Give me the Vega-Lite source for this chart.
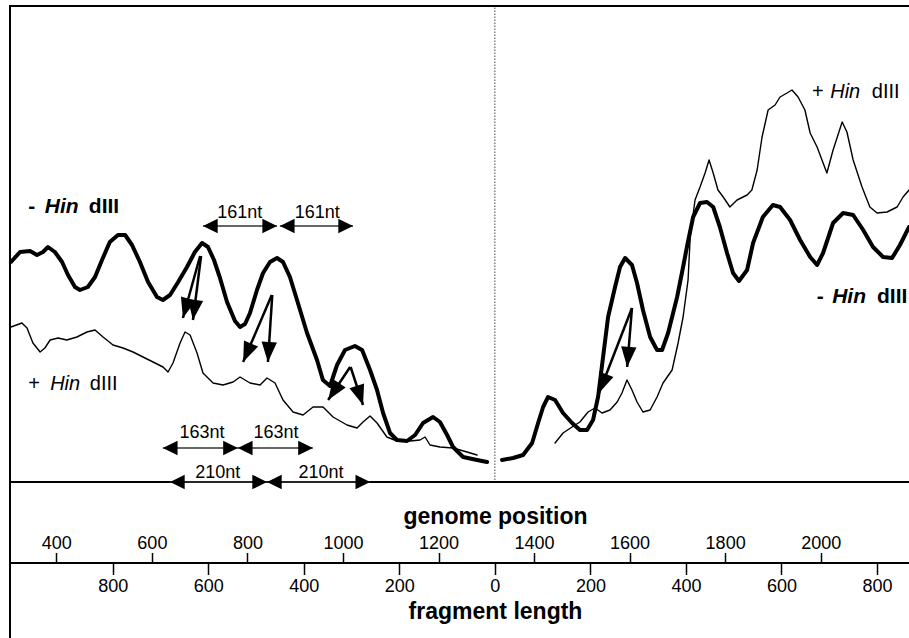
{
  "$schema": "https://vega.github.io/schema/vega-lite/v6.json",
  "width": 900,
  "height": 634,
  "autosize": {"type": "none"},
  "padding": {"left": 10, "top": 6, "right": 0, "bottom": 0},
  "background": "white",
  "config": {
    "font": "Liberation Sans",
    "view": {"stroke": "black", "strokeWidth": 2},
    "axis": {"grid": false, "domainColor": "black", "domainWidth": 2, "tickColor": "black", "tickWidth": 1.5, "labelColor": "black", "titleColor": "black", "labelFontSize": 18, "labelFontWeight": "normal", "titleFontSize": 23, "titleFontWeight": "bold", "labelFlush": false, "labelOverlap": false}
  },
  "datasets": {
    "curves": [
      {"trace": "mL", "treatment": "minus", "g": 305, "v": 220},
      {"trace": "mL", "treatment": "minus", "g": 324, "v": 230},
      {"trace": "mL", "treatment": "minus", "g": 345, "v": 231},
      {"trace": "mL", "treatment": "minus", "g": 359.5, "v": 227},
      {"trace": "mL", "treatment": "minus", "g": 372, "v": 230},
      {"trace": "mL", "treatment": "minus", "g": 382.5, "v": 235},
      {"trace": "mL", "treatment": "minus", "g": 397, "v": 230},
      {"trace": "mL", "treatment": "minus", "g": 412, "v": 220},
      {"trace": "mL", "treatment": "minus", "g": 424.4, "v": 207},
      {"trace": "mL", "treatment": "minus", "g": 439, "v": 195},
      {"trace": "mL", "treatment": "minus", "g": 449.5, "v": 192},
      {"trace": "mL", "treatment": "minus", "g": 466, "v": 195},
      {"trace": "mL", "treatment": "minus", "g": 481, "v": 205},
      {"trace": "mL", "treatment": "minus", "g": 495.6, "v": 222},
      {"trace": "mL", "treatment": "minus", "g": 512, "v": 240},
      {"trace": "mL", "treatment": "minus", "g": 529, "v": 247},
      {"trace": "mL", "treatment": "minus", "g": 544, "v": 247},
      {"trace": "mL", "treatment": "minus", "g": 558.4, "v": 237},
      {"trace": "mL", "treatment": "minus", "g": 575, "v": 220},
      {"trace": "mL", "treatment": "minus", "g": 592, "v": 200},
      {"trace": "mL", "treatment": "minus", "g": 610.7, "v": 185},
      {"trace": "mL", "treatment": "minus", "g": 623, "v": 182},
      {"trace": "mL", "treatment": "minus", "g": 638, "v": 187},
      {"trace": "mL", "treatment": "minus", "g": 655, "v": 200},
      {"trace": "mL", "treatment": "minus", "g": 673.5, "v": 215},
      {"trace": "mL", "treatment": "minus", "g": 690, "v": 230},
      {"trace": "mL", "treatment": "minus", "g": 705, "v": 239},
      {"trace": "mL", "treatment": "minus", "g": 717.5, "v": 235},
      {"trace": "mL", "treatment": "minus", "g": 730, "v": 222},
      {"trace": "mL", "treatment": "minus", "g": 742.6, "v": 204},
      {"trace": "mL", "treatment": "minus", "g": 757.3, "v": 180},
      {"trace": "mL", "treatment": "minus", "g": 774, "v": 161},
      {"trace": "mL", "treatment": "minus", "g": 784.5, "v": 155},
      {"trace": "mL", "treatment": "minus", "g": 795, "v": 158},
      {"trace": "mL", "treatment": "minus", "g": 805.4, "v": 169},
      {"trace": "mL", "treatment": "minus", "g": 820, "v": 192},
      {"trace": "mL", "treatment": "minus", "g": 832.7, "v": 209},
      {"trace": "mL", "treatment": "minus", "g": 847.3, "v": 220},
      {"trace": "mL", "treatment": "minus", "g": 862, "v": 224},
      {"trace": "mL", "treatment": "minus", "g": 874.5, "v": 220},
      {"trace": "mL", "treatment": "minus", "g": 889, "v": 205},
      {"trace": "mL", "treatment": "minus", "g": 903.8, "v": 182},
      {"trace": "mL", "treatment": "minus", "g": 924.8, "v": 149},
      {"trace": "mL", "treatment": "minus", "g": 945.7, "v": 122},
      {"trace": "mL", "treatment": "minus", "g": 958, "v": 102},
      {"trace": "mL", "treatment": "minus", "g": 973, "v": 96},
      {"trace": "mL", "treatment": "minus", "g": 987.6, "v": 117},
      {"trace": "mL", "treatment": "minus", "g": 1004.3, "v": 132},
      {"trace": "mL", "treatment": "minus", "g": 1025, "v": 136},
      {"trace": "mL", "treatment": "minus", "g": 1040, "v": 132},
      {"trace": "mL", "treatment": "minus", "g": 1056.7, "v": 112},
      {"trace": "mL", "treatment": "minus", "g": 1071.3, "v": 92},
      {"trace": "mL", "treatment": "minus", "g": 1084, "v": 69},
      {"trace": "mL", "treatment": "minus", "g": 1098.5, "v": 49},
      {"trace": "mL", "treatment": "minus", "g": 1113, "v": 42},
      {"trace": "mL", "treatment": "minus", "g": 1134, "v": 41},
      {"trace": "mL", "treatment": "minus", "g": 1151, "v": 47},
      {"trace": "mL", "treatment": "minus", "g": 1167.6, "v": 59},
      {"trace": "mL", "treatment": "minus", "g": 1188.6, "v": 65},
      {"trace": "mL", "treatment": "minus", "g": 1203, "v": 60},
      {"trace": "mL", "treatment": "minus", "g": 1218, "v": 47},
      {"trace": "mL", "treatment": "minus", "g": 1230.4, "v": 35},
      {"trace": "mL", "treatment": "minus", "g": 1251.4, "v": 25},
      {"trace": "mL", "treatment": "minus", "g": 1280.7, "v": 22},
      {"trace": "mL", "treatment": "minus", "g": 1301.6, "v": 20},

      {"trace": "pL", "treatment": "plus", "g": 305, "v": 155},
      {"trace": "pL", "treatment": "plus", "g": 328, "v": 159},
      {"trace": "pL", "treatment": "plus", "g": 338.6, "v": 154},
      {"trace": "pL", "treatment": "plus", "g": 351, "v": 139},
      {"trace": "pL", "treatment": "plus", "g": 366, "v": 130},
      {"trace": "pL", "treatment": "plus", "g": 376, "v": 134},
      {"trace": "pL", "treatment": "plus", "g": 387, "v": 142},
      {"trace": "pL", "treatment": "plus", "g": 403.5, "v": 144},
      {"trace": "pL", "treatment": "plus", "g": 422, "v": 142},
      {"trace": "pL", "treatment": "plus", "g": 443, "v": 145},
      {"trace": "pL", "treatment": "plus", "g": 464, "v": 150},
      {"trace": "pL", "treatment": "plus", "g": 481, "v": 152},
      {"trace": "pL", "treatment": "plus", "g": 497.7, "v": 145},
      {"trace": "pL", "treatment": "plus", "g": 518.6, "v": 137},
      {"trace": "pL", "treatment": "plus", "g": 539.6, "v": 134},
      {"trace": "pL", "treatment": "plus", "g": 560.5, "v": 130},
      {"trace": "pL", "treatment": "plus", "g": 581.4, "v": 125},
      {"trace": "pL", "treatment": "plus", "g": 602.4, "v": 120},
      {"trace": "pL", "treatment": "plus", "g": 623.3, "v": 115},
      {"trace": "pL", "treatment": "plus", "g": 633.8, "v": 110},
      {"trace": "pL", "treatment": "plus", "g": 644.2, "v": 119},
      {"trace": "pL", "treatment": "plus", "g": 659, "v": 139},
      {"trace": "pL", "treatment": "plus", "g": 669.4, "v": 150},
      {"trace": "pL", "treatment": "plus", "g": 680, "v": 147},
      {"trace": "pL", "treatment": "plus", "g": 694.5, "v": 129},
      {"trace": "pL", "treatment": "plus", "g": 707, "v": 109},
      {"trace": "pL", "treatment": "plus", "g": 728, "v": 99},
      {"trace": "pL", "treatment": "plus", "g": 749, "v": 97},
      {"trace": "pL", "treatment": "plus", "g": 770, "v": 100},
      {"trace": "pL", "treatment": "plus", "g": 784.5, "v": 105},
      {"trace": "pL", "treatment": "plus", "g": 805.4, "v": 99},
      {"trace": "pL", "treatment": "plus", "g": 826.4, "v": 97},
      {"trace": "pL", "treatment": "plus", "g": 841, "v": 104},
      {"trace": "pL", "treatment": "plus", "g": 857.8, "v": 99},
      {"trace": "pL", "treatment": "plus", "g": 874.5, "v": 82},
      {"trace": "pL", "treatment": "plus", "g": 895.5, "v": 70},
      {"trace": "pL", "treatment": "plus", "g": 916.4, "v": 67},
      {"trace": "pL", "treatment": "plus", "g": 937.3, "v": 75},
      {"trace": "pL", "treatment": "plus", "g": 958.3, "v": 75},
      {"trace": "pL", "treatment": "plus", "g": 979.2, "v": 65},
      {"trace": "pL", "treatment": "plus", "g": 1008.5, "v": 57},
      {"trace": "pL", "treatment": "plus", "g": 1029.4, "v": 54},
      {"trace": "pL", "treatment": "plus", "g": 1042, "v": 60},
      {"trace": "pL", "treatment": "plus", "g": 1056.7, "v": 66},
      {"trace": "pL", "treatment": "plus", "g": 1071.3, "v": 59},
      {"trace": "pL", "treatment": "plus", "g": 1092, "v": 45},
      {"trace": "pL", "treatment": "plus", "g": 1113, "v": 41},
      {"trace": "pL", "treatment": "plus", "g": 1140.4, "v": 41},
      {"trace": "pL", "treatment": "plus", "g": 1161.3, "v": 42},
      {"trace": "pL", "treatment": "plus", "g": 1171.8, "v": 45},
      {"trace": "pL", "treatment": "plus", "g": 1182.3, "v": 37},
      {"trace": "pL", "treatment": "plus", "g": 1203, "v": 35},
      {"trace": "pL", "treatment": "plus", "g": 1230.4, "v": 34},
      {"trace": "pL", "treatment": "plus", "g": 1259.7, "v": 30},
      {"trace": "pL", "treatment": "plus", "g": 1280.7, "v": 27},

      {"trace": "mR", "treatment": "minus", "g": 1333, "v": 22},
      {"trace": "mR", "treatment": "minus", "g": 1356, "v": 24},
      {"trace": "mR", "treatment": "minus", "g": 1377, "v": 27},
      {"trace": "mR", "treatment": "minus", "g": 1396, "v": 39},
      {"trace": "mR", "treatment": "minus", "g": 1408.5, "v": 59},
      {"trace": "mR", "treatment": "minus", "g": 1419, "v": 75},
      {"trace": "mR", "treatment": "minus", "g": 1429.3, "v": 85},
      {"trace": "mR", "treatment": "minus", "g": 1444, "v": 82},
      {"trace": "mR", "treatment": "minus", "g": 1460.7, "v": 69},
      {"trace": "mR", "treatment": "minus", "g": 1479.6, "v": 59},
      {"trace": "mR", "treatment": "minus", "g": 1496, "v": 52},
      {"trace": "mR", "treatment": "minus", "g": 1511, "v": 52},
      {"trace": "mR", "treatment": "minus", "g": 1523.5, "v": 62},
      {"trace": "mR", "treatment": "minus", "g": 1534, "v": 85},
      {"trace": "mR", "treatment": "minus", "g": 1544.5, "v": 125},
      {"trace": "mR", "treatment": "minus", "g": 1555, "v": 165},
      {"trace": "mR", "treatment": "minus", "g": 1569.6, "v": 195},
      {"trace": "mR", "treatment": "minus", "g": 1580, "v": 215},
      {"trace": "mR", "treatment": "minus", "g": 1590.6, "v": 224},
      {"trace": "mR", "treatment": "minus", "g": 1605, "v": 217},
      {"trace": "mR", "treatment": "minus", "g": 1615.6, "v": 199},
      {"trace": "mR", "treatment": "minus", "g": 1628, "v": 172},
      {"trace": "mR", "treatment": "minus", "g": 1643, "v": 145},
      {"trace": "mR", "treatment": "minus", "g": 1657.5, "v": 132},
      {"trace": "mR", "treatment": "minus", "g": 1668, "v": 132},
      {"trace": "mR", "treatment": "minus", "g": 1680.6, "v": 149},
      {"trace": "mR", "treatment": "minus", "g": 1699.5, "v": 185},
      {"trace": "mR", "treatment": "minus", "g": 1712, "v": 215},
      {"trace": "mR", "treatment": "minus", "g": 1720, "v": 235},
      {"trace": "mR", "treatment": "minus", "g": 1733, "v": 265},
      {"trace": "mR", "treatment": "minus", "g": 1747.5, "v": 279},
      {"trace": "mR", "treatment": "minus", "g": 1762, "v": 280},
      {"trace": "mR", "treatment": "minus", "g": 1775, "v": 275},
      {"trace": "mR", "treatment": "minus", "g": 1789, "v": 255},
      {"trace": "mR", "treatment": "minus", "g": 1804, "v": 229},
      {"trace": "mR", "treatment": "minus", "g": 1816.6, "v": 209},
      {"trace": "mR", "treatment": "minus", "g": 1829, "v": 201},
      {"trace": "mR", "treatment": "minus", "g": 1846, "v": 212},
      {"trace": "mR", "treatment": "minus", "g": 1858.5, "v": 239},
      {"trace": "mR", "treatment": "minus", "g": 1879, "v": 265},
      {"trace": "mR", "treatment": "minus", "g": 1900, "v": 277},
      {"trace": "mR", "treatment": "minus", "g": 1915, "v": 275},
      {"trace": "mR", "treatment": "minus", "g": 1936, "v": 262},
      {"trace": "mR", "treatment": "minus", "g": 1957, "v": 242},
      {"trace": "mR", "treatment": "minus", "g": 1978, "v": 225},
      {"trace": "mR", "treatment": "minus", "g": 1992.5, "v": 217},
      {"trace": "mR", "treatment": "minus", "g": 2005, "v": 229},
      {"trace": "mR", "treatment": "minus", "g": 2026, "v": 259},
      {"trace": "mR", "treatment": "minus", "g": 2047, "v": 269},
      {"trace": "mR", "treatment": "minus", "g": 2068, "v": 267},
      {"trace": "mR", "treatment": "minus", "g": 2089, "v": 252},
      {"trace": "mR", "treatment": "minus", "g": 2109.6, "v": 235},
      {"trace": "mR", "treatment": "minus", "g": 2130.6, "v": 225},
      {"trace": "mR", "treatment": "minus", "g": 2149.5, "v": 224},
      {"trace": "mR", "treatment": "minus", "g": 2166, "v": 237},
      {"trace": "mR", "treatment": "minus", "g": 2185, "v": 255},

      {"trace": "pR", "treatment": "plus", "g": 1444, "v": 39},
      {"trace": "pR", "treatment": "plus", "g": 1460.7, "v": 49},
      {"trace": "pR", "treatment": "plus", "g": 1479.6, "v": 55},
      {"trace": "pR", "treatment": "plus", "g": 1496, "v": 60},
      {"trace": "pR", "treatment": "plus", "g": 1513, "v": 70},
      {"trace": "pR", "treatment": "plus", "g": 1527.7, "v": 74},
      {"trace": "pR", "treatment": "plus", "g": 1542.4, "v": 69},
      {"trace": "pR", "treatment": "plus", "g": 1559, "v": 72},
      {"trace": "pR", "treatment": "plus", "g": 1574, "v": 80},
      {"trace": "pR", "treatment": "plus", "g": 1584, "v": 89},
      {"trace": "pR", "treatment": "plus", "g": 1594.6, "v": 102},
      {"trace": "pR", "treatment": "plus", "g": 1605, "v": 92},
      {"trace": "pR", "treatment": "plus", "g": 1615.6, "v": 80},
      {"trace": "pR", "treatment": "plus", "g": 1628, "v": 70},
      {"trace": "pR", "treatment": "plus", "g": 1643, "v": 72},
      {"trace": "pR", "treatment": "plus", "g": 1657.5, "v": 85},
      {"trace": "pR", "treatment": "plus", "g": 1670, "v": 99},
      {"trace": "pR", "treatment": "plus", "g": 1689, "v": 112},
      {"trace": "pR", "treatment": "plus", "g": 1701.5, "v": 139},
      {"trace": "pR", "treatment": "plus", "g": 1712, "v": 165},
      {"trace": "pR", "treatment": "plus", "g": 1722.4, "v": 202},
      {"trace": "pR", "treatment": "plus", "g": 1727, "v": 246},
      {"trace": "pR", "treatment": "plus", "g": 1737, "v": 282},
      {"trace": "pR", "treatment": "plus", "g": 1747.5, "v": 295},
      {"trace": "pR", "treatment": "plus", "g": 1758, "v": 309},
      {"trace": "pR", "treatment": "plus", "g": 1766.4, "v": 322},
      {"trace": "pR", "treatment": "plus", "g": 1775, "v": 309},
      {"trace": "pR", "treatment": "plus", "g": 1785, "v": 292},
      {"trace": "pR", "treatment": "plus", "g": 1796, "v": 285},
      {"trace": "pR", "treatment": "plus", "g": 1810, "v": 275},
      {"trace": "pR", "treatment": "plus", "g": 1825, "v": 282},
      {"trace": "pR", "treatment": "plus", "g": 1846, "v": 287},
      {"trace": "pR", "treatment": "plus", "g": 1856, "v": 292},
      {"trace": "pR", "treatment": "plus", "g": 1867, "v": 312},
      {"trace": "pR", "treatment": "plus", "g": 1877.3, "v": 345},
      {"trace": "pR", "treatment": "plus", "g": 1890, "v": 372},
      {"trace": "pR", "treatment": "plus", "g": 1904.5, "v": 377},
      {"trace": "pR", "treatment": "plus", "g": 1915, "v": 385},
      {"trace": "pR", "treatment": "plus", "g": 1929.6, "v": 389},
      {"trace": "pR", "treatment": "plus", "g": 1940, "v": 392},
      {"trace": "pR", "treatment": "plus", "g": 1952.7, "v": 385},
      {"trace": "pR", "treatment": "plus", "g": 1967, "v": 372},
      {"trace": "pR", "treatment": "plus", "g": 1978, "v": 349},
      {"trace": "pR", "treatment": "plus", "g": 1992.5, "v": 335},
      {"trace": "pR", "treatment": "plus", "g": 2013, "v": 309},
      {"trace": "pR", "treatment": "plus", "g": 2026, "v": 332},
      {"trace": "pR", "treatment": "plus", "g": 2045, "v": 360},
      {"trace": "pR", "treatment": "plus", "g": 2055, "v": 350},
      {"trace": "pR", "treatment": "plus", "g": 2068, "v": 322},
      {"trace": "pR", "treatment": "plus", "g": 2086.6, "v": 295},
      {"trace": "pR", "treatment": "plus", "g": 2103, "v": 275},
      {"trace": "pR", "treatment": "plus", "g": 2118, "v": 269},
      {"trace": "pR", "treatment": "plus", "g": 2139, "v": 270},
      {"trace": "pR", "treatment": "plus", "g": 2160, "v": 275},
      {"trace": "pR", "treatment": "plus", "g": 2172.5, "v": 285},
      {"trace": "pR", "treatment": "plus", "g": 2185, "v": 292}
    ],
    "zero": [{"g": 1318, "v1": 2, "v2": 476}],
    "baseline": [{"v": 0}],
    "ntArrows": [
      {"label": "161nt", "g1": 707, "g2": 862, "v": 256, "gl": 784, "vl": 264},
      {"label": "161nt", "g1": 868, "g2": 1021, "v": 256, "gl": 946, "vl": 264},
      {"label": "163nt", "g1": 623, "g2": 780, "v": 34, "gl": 705, "vl": 44},
      {"label": "163nt", "g1": 780, "g2": 937, "v": 34, "gl": 860, "vl": 44},
      {"label": "210nt", "g1": 638, "g2": 841, "v": 0, "gl": 738, "vl": 4},
      {"label": "210nt", "g1": 841, "g2": 1057, "v": 0, "gl": 954, "vl": 4}
    ],
    "pointers": [
      {"g1": 701, "v1": 226, "g2": 665, "v2": 164},
      {"g1": 703, "v1": 226, "g2": 686, "v2": 162},
      {"g1": 851, "v1": 187, "g2": 791, "v2": 120},
      {"g1": 852, "v1": 187, "g2": 843, "v2": 120},
      {"g1": 1015, "v1": 115, "g2": 969, "v2": 82},
      {"g1": 1016, "v1": 115, "g2": 1042, "v2": 77},
      {"g1": 1605, "v1": 174, "g2": 1536, "v2": 89},
      {"g1": 1605, "v1": 174, "g2": 1595, "v2": 115}
    ],
    "labels": [
      {"text": "-", "treatment": "minus", "part": "sign", "g": 341, "v": 269},
      {"text": "Hin", "treatment": "minus", "part": "genus", "g": 376, "v": 269},
      {"text": "dIII", "treatment": "minus", "part": "suffix", "g": 468, "v": 269},
      {"text": "-", "treatment": "minus", "part": "sign", "g": 1992, "v": 179},
      {"text": "Hin", "treatment": "minus", "part": "genus", "g": 2024, "v": 179},
      {"text": "dIII", "treatment": "minus", "part": "suffix", "g": 2118, "v": 179},
      {"text": "+", "treatment": "plus", "part": "sign", "g": 341, "v": 92},
      {"text": "Hin", "treatment": "plus", "part": "genus", "g": 387, "v": 92},
      {"text": "dIII", "treatment": "plus", "part": "suffix", "g": 470, "v": 92},
      {"text": "+", "treatment": "plus", "part": "sign", "g": 1982, "v": 384},
      {"text": "Hin", "treatment": "plus", "part": "genus", "g": 2020, "v": 384},
      {"text": "dIII", "treatment": "plus", "part": "suffix", "g": 2107, "v": 384}
    ]
  },
  "layer": [
    {
      "data": {"name": "curves"},
      "mark": {"type": "line", "color": "black", "strokeJoin": "round", "strokeCap": "round"},
      "encoding": {
        "x": {"field": "g", "type": "quantitative", "scale": {"domain": [303, 2187], "nice": false, "zero": false},
          "axis": {"orient": "top", "offset": -556.5, "values": [400, 600, 800, 1000, 1200, 1400, 1600, 1800, 2000], "format": "d", "tickSize": 10, "labelPadding": 0.5, "labelFontSize": 18, "title": "genome position", "titleFontSize": 23, "titlePadding": 6, "titleX": 485}},
        "y": {"field": "v", "type": "quantitative", "scale": {"domain": [-158, 476], "nice": false, "zero": false}, "axis": null},
        "detail": {"field": "trace"},
        "strokeWidth": {"field": "treatment", "type": "nominal", "scale": {"domain": ["minus", "plus"], "range": [4, 1.4]}, "legend": null}
      }
    },
    {
      "data": {"name": "zero"},
      "mark": {"type": "rule", "color": "#444444", "strokeWidth": 1, "strokeDash": [1.5, 1.5]},
      "encoding": {
        "x": {"field": "g", "type": "quantitative", "scale": {"domain": [303, 2187], "nice": false, "zero": false},
          "axis": {"orient": "bottom", "offset": -77.5, "values": [518, 718, 918, 1118, 1318, 1518, 1718, 1918, 2118], "labelExpr": "abs(datum.value - 1318)", "tickSize": 12, "labelPadding": 3, "labelFontSize": 18, "title": "fragment length", "titleFontSize": 23, "titlePadding": 5, "titleX": 485}},
        "y": {"field": "v1", "type": "quantitative", "scale": {"domain": [-158, 476], "nice": false, "zero": false}, "axis": null},
        "y2": {"field": "v2"}
      }
    },
    {
      "data": {"name": "baseline"},
      "mark": {"type": "rule", "color": "black", "strokeWidth": 2},
      "encoding": {
        "y": {"field": "v", "type": "quantitative", "scale": {"domain": [-158, 476], "nice": false, "zero": false}, "axis": null}
      }
    },
    {
      "data": {"name": "ntArrows"},
      "mark": {"type": "rule", "color": "#333333", "strokeWidth": 1.3},
      "encoding": {
        "x": {"field": "g1", "type": "quantitative", "scale": {"domain": [303, 2187], "nice": false, "zero": false}, "axis": null},
        "x2": {"field": "g2"},
        "y": {"field": "v", "type": "quantitative", "scale": {"domain": [-158, 476], "nice": false, "zero": false}, "axis": null}
      }
    },
    {
      "data": {"name": "ntArrows"},
      "mark": {"type": "point", "shape": "M0,0L0.7,1.4L-0.7,1.4Z", "size": 440, "filled": true, "opacity": 1, "color": "black", "strokeWidth": 0, "angle": 270},
      "encoding": {
        "x": {"field": "g1", "type": "quantitative", "scale": {"domain": [303, 2187], "nice": false, "zero": false}, "axis": null},
        "y": {"field": "v", "type": "quantitative", "scale": {"domain": [-158, 476], "nice": false, "zero": false}, "axis": null}
      }
    },
    {
      "data": {"name": "ntArrows"},
      "mark": {"type": "point", "shape": "M0,0L0.7,1.4L-0.7,1.4Z", "size": 440, "filled": true, "opacity": 1, "color": "black", "strokeWidth": 0, "angle": 90},
      "encoding": {
        "x": {"field": "g2", "type": "quantitative", "scale": {"domain": [303, 2187], "nice": false, "zero": false}, "axis": null},
        "y": {"field": "v", "type": "quantitative", "scale": {"domain": [-158, 476], "nice": false, "zero": false}, "axis": null}
      }
    },
    {
      "data": {"name": "ntArrows"},
      "mark": {"type": "text", "align": "center", "baseline": "alphabetic", "fontSize": 18, "color": "black"},
      "encoding": {
        "x": {"field": "gl", "type": "quantitative", "scale": {"domain": [303, 2187], "nice": false, "zero": false}, "axis": null},
        "y": {"field": "vl", "type": "quantitative", "scale": {"domain": [-158, 476], "nice": false, "zero": false}, "axis": null},
        "text": {"field": "label"}
      }
    },
    {
      "data": {"name": "pointers"},
      "mark": {"type": "rule", "color": "black", "strokeWidth": 2.5},
      "encoding": {
        "x": {"field": "g1", "type": "quantitative", "scale": {"domain": [303, 2187], "nice": false, "zero": false}, "axis": null},
        "x2": {"field": "g2"},
        "y": {"field": "v1", "type": "quantitative", "scale": {"domain": [-158, 476], "nice": false, "zero": false}, "axis": null},
        "y2": {"field": "v2"}
      }
    },
    {
      "data": {"name": "pointers"},
      "mark": {"type": "point", "shape": "M0,0L0.65,1.7L-0.65,1.7Z", "size": 560, "filled": true, "opacity": 1, "color": "black", "strokeWidth": 0,
        "angle": {"expr": "atan2((datum.g2 - datum.g1) * 0.4777, datum.v2 - datum.v1) * 180 / PI"}},
      "encoding": {
        "x": {"field": "g2", "type": "quantitative", "scale": {"domain": [303, 2187], "nice": false, "zero": false}, "axis": null},
        "y": {"field": "v2", "type": "quantitative", "scale": {"domain": [-158, 476], "nice": false, "zero": false}, "axis": null}
      }
    },
    {
      "data": {"name": "labels"},
      "transform": [{"filter": "datum.treatment == 'minus' && datum.part != 'genus'"}],
      "mark": {"type": "text", "align": "left", "baseline": "alphabetic", "fontSize": 21, "fontWeight": "bold", "color": "black"},
      "encoding": {
        "x": {"field": "g", "type": "quantitative", "scale": {"domain": [303, 2187], "nice": false, "zero": false}, "axis": null},
        "y": {"field": "v", "type": "quantitative", "scale": {"domain": [-158, 476], "nice": false, "zero": false}, "axis": null},
        "text": {"field": "text"}
      }
    },
    {
      "data": {"name": "labels"},
      "transform": [{"filter": "datum.treatment == 'minus' && datum.part == 'genus'"}],
      "mark": {"type": "text", "align": "left", "baseline": "alphabetic", "fontSize": 21, "fontWeight": "bold", "fontStyle": "italic", "color": "black"},
      "encoding": {
        "x": {"field": "g", "type": "quantitative", "scale": {"domain": [303, 2187], "nice": false, "zero": false}, "axis": null},
        "y": {"field": "v", "type": "quantitative", "scale": {"domain": [-158, 476], "nice": false, "zero": false}, "axis": null},
        "text": {"field": "text"}
      }
    },
    {
      "data": {"name": "labels"},
      "transform": [{"filter": "datum.treatment == 'plus' && datum.part != 'genus'"}],
      "mark": {"type": "text", "align": "left", "baseline": "alphabetic", "fontSize": 20, "color": "black"},
      "encoding": {
        "x": {"field": "g", "type": "quantitative", "scale": {"domain": [303, 2187], "nice": false, "zero": false}, "axis": null},
        "y": {"field": "v", "type": "quantitative", "scale": {"domain": [-158, 476], "nice": false, "zero": false}, "axis": null},
        "text": {"field": "text"}
      }
    },
    {
      "data": {"name": "labels"},
      "transform": [{"filter": "datum.treatment == 'plus' && datum.part == 'genus'"}],
      "mark": {"type": "text", "align": "left", "baseline": "alphabetic", "fontSize": 20, "fontStyle": "italic", "color": "black"},
      "encoding": {
        "x": {"field": "g", "type": "quantitative", "scale": {"domain": [303, 2187], "nice": false, "zero": false}, "axis": null},
        "y": {"field": "v", "type": "quantitative", "scale": {"domain": [-158, 476], "nice": false, "zero": false}, "axis": null},
        "text": {"field": "text"}
      }
    }
  ],
  "resolve": {"axis": {"x": "independent"}}
}
